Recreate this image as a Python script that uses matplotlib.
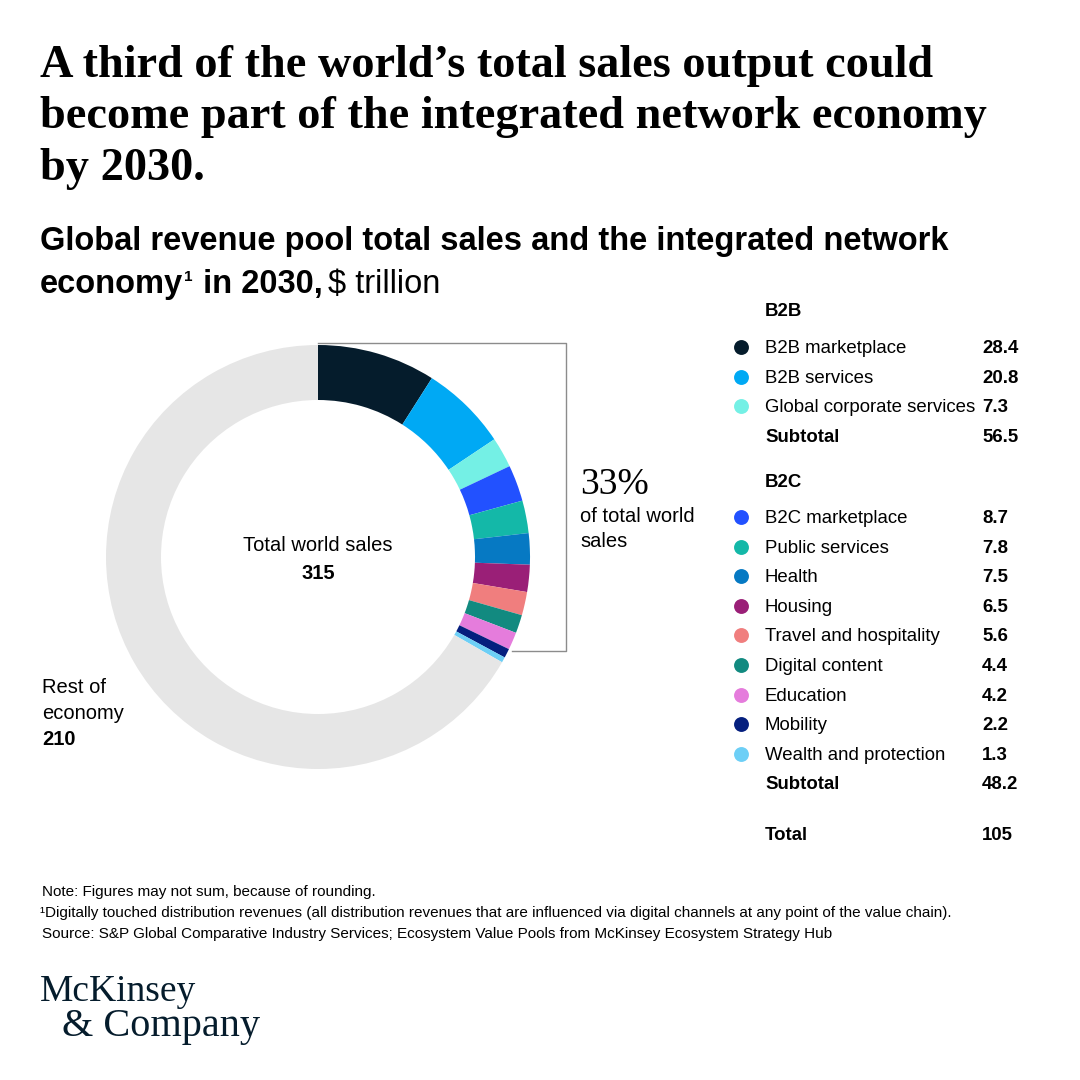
import matplotlib.pyplot as plt
from matplotlib.lines import Line2D

# data
b2b_labels = ["B2B marketplace", "B2B services", "Global corporate services"]
b2b_values = [28.4, 20.8, 7.3]
b2b_colors = ["#051C2C", "#00A9F4", "#74F0E5"]
b2b_subtotal = 56.5

b2c_labels = ["B2C marketplace", "Public services", "Health", "Housing",
              "Travel and hospitality", "Digital content", "Education",
              "Mobility", "Wealth and protection"]
b2c_values = [8.7, 7.8, 7.5, 6.5, 5.6, 4.4, 4.2, 2.2, 1.3]
b2c_colors = ["#2251FF", "#14B8A8", "#0679C3", "#9A1F77", "#F07E7E",
              "#128A80", "#E57CDC", "#051F7E", "#6DCFF6"]
b2c_subtotal = 48.2

total_network = 105
total_world = 315
rest_of_economy = 210
share_pct = 33

SANS = "Liberation Sans"
SERIF = "Liberation Serif"
INK = "#000000"
NAVY = "#051C2C"
W = H = 1080

fig = plt.figure(figsize=(10.8, 10.8), dpi=100)
fig.patch.set_facecolor("white")

# overlay axes in pixel coords (y down)
ov = fig.add_axes([0, 0, 1, 1])
ov.set_xlim(0, W)
ov.set_ylim(H, 0)
ov.axis("off")
renderer = fig.canvas.get_renderer()

# donut
cx, cy, r_out, r_in = 318, 557, 212, 157
dax = fig.add_axes([(cx - r_out) / W, 1 - (cy + r_out) / H, 2 * r_out / W, 2 * r_out / H])
vals = b2b_values + b2c_values + [rest_of_economy]
cols = b2b_colors + b2c_colors + ["#E6E6E6"]
dax.pie(vals, colors=cols, startangle=90, counterclock=False, radius=1,
        wedgeprops=dict(width=(r_out - r_in) / r_out, linewidth=0))
dax.set_xlim(-1, 1)
dax.set_ylim(-1, 1)
dax.set_aspect("equal")
dax.axis("off")

# bracket around network economy
ov.add_line(Line2D([318, 566, 566, 512], [343, 343, 651, 651], color="#8C8C8C", lw=1.0))

# title
title = ["A third of the world\u2019s total sales output could",
         "become part of the integrated network economy",
         "by 2030."]
for i, t in enumerate(title):
    ov.text(40, 77 + i * 51.5, t, fontsize=33.3, fontweight="bold", family=SERIF,
            color=INK, va="baseline", ha="left")

# subtitle
sfs = 23.5
ov.text(40, 250, "Global revenue pool total sales and the integrated network",
        fontsize=sfs, fontweight="bold", family=SANS, va="baseline")

def run(x, y, s, **kw):
    t = ov.text(x, y, s, family=SANS, va="baseline", **kw)
    return t.get_window_extent(renderer).x1

x = run(40, 293, "economy", fontsize=sfs, fontweight="bold")
x = run(x + 1, 281, "1", fontsize=11, fontweight="bold")
x = run(x + 1, 293, " in 2030,", fontsize=sfs, fontweight="bold")
run(x + 6, 293, "$ trillion", fontsize=sfs)

# center labels
cfs = 14.5
ov.text(cx, 551, "Total world sales", fontsize=cfs, family=SANS, ha="center", va="baseline")
ov.text(cx, 579, f"{total_world}", fontsize=cfs, family=SANS, fontweight="bold",
        ha="center", va="baseline")

ov.text(42, 693, "Rest of", fontsize=cfs, family=SANS, va="baseline")
ov.text(42, 719, "economy", fontsize=cfs, family=SANS, va="baseline")
ov.text(42, 745, f"{rest_of_economy}", fontsize=cfs, family=SANS, fontweight="bold",
        va="baseline")

# 33%
ov.text(580, 494, f"{share_pct}%", fontsize=27, family=SERIF, va="baseline")
ov.text(580, 522, "of total world", fontsize=cfs, family=SANS, va="baseline")
ov.text(580, 547, "sales", fontsize=cfs, family=SANS, va="baseline")

# legend
lx_dot, lx_txt, lx_val = 741, 765, 982
fs = 13.4
row = 29.6

def legend_row(y, label, value, color=None, bold=False):
    if color is not None:
        ov.scatter([lx_dot], [y], s=115, color=color, marker="o", linewidths=0)
    w = "bold" if bold else "normal"
    ov.text(lx_txt, y + 6, label, fontsize=fs, family=SANS, fontweight=w, va="baseline")
    ov.text(lx_val, y + 6, value, fontsize=fs, family=SANS, fontweight="bold", va="baseline")

ov.text(lx_txt, 316, "B2B", fontsize=fs, family=SANS, fontweight="bold", va="baseline")
y = 347
for lab, v, c in zip(b2b_labels, b2b_values, b2b_colors):
    legend_row(y, lab, f"{v:.1f}", c)
    y += row
legend_row(y, "Subtotal", f"{b2b_subtotal:.1f}", bold=True)

ov.text(lx_txt, 487, "B2C", fontsize=fs, family=SANS, fontweight="bold", va="baseline")
y = 517
for lab, v, c in zip(b2c_labels, b2c_values, b2c_colors):
    legend_row(y, lab, f"{v:.1f}", c)
    y += row
legend_row(y, "Subtotal", f"{b2c_subtotal:.1f}", bold=True)
legend_row(834, "Total", f"{total_network}", bold=True)

# footnotes
notes = ["Note: Figures may not sum, because of rounding.",
         "\u00b9Digitally touched distribution revenues (all distribution revenues that are influenced via digital channels at any point of the value chain).",
         "Source: S&P Global Comparative Industry Services; Ecosystem Value Pools from McKinsey Ecosystem Strategy Hub"]
for i, n in enumerate(notes):
    ov.text(42 if i != 1 else 40, 896 + i * 21, n, fontsize=11, family=SANS,
            va="baseline", color=INK)

# logo
ov.text(40, 1001, "McKinsey", fontsize=27, family=SERIF, color=NAVY, va="baseline")
ov.text(62, 1036, "& Company", fontsize=29, family=SERIF, color=NAVY, va="baseline")

fig.savefig("out.png", dpi=100, facecolor="white")
